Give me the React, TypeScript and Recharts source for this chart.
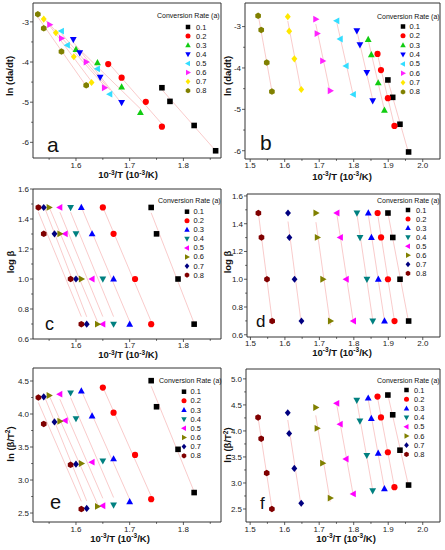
import React from "react";
import { ScatterChart, Scatter, XAxis, YAxis, ReferenceArea } from "recharts";

const FONT = "'Liberation Sans', Arial, Helvetica, sans-serif";
const AXIS = "#333";
const FIT = "#f8bebe";

// conversion rates, one series each
const alphas = ["0.1", "0.2", "0.3", "0.4", "0.5", "0.6", "0.7", "0.8"];
// log of heating rates 30, 20, 10, 5 K/min
const logBeta = [1.477, 1.301, 1.0, 0.699];

// panel a (1000/T, ln(da/dt)), points ordered 30, 20, 10, 5 K/min
const xFriedman1 = [
  [1.76, 1.775, 1.82, 1.86],
  [1.66, 1.685, 1.73, 1.76],
  [1.6, 1.64, 1.685, 1.72],
  [1.595, 1.607, 1.645, 1.685],
  [1.573, 1.584, 1.64, 1.663],
  [1.551, 1.573, 1.619, 1.653],
  [1.54, 1.5625, 1.596, 1.629],
  [1.529, 1.54, 1.573, 1.619],
];
const yFriedman1 = [
  [-4.64, -4.98, -5.58, -6.21],
  [-4.05, -4.39, -4.99, -5.61],
  [-3.69, -4.02, -4.62, -5.26],
  [-3.44, -3.77, -4.38, -5.01],
  [-3.23, -3.58, -4.17, -4.8],
  [-3.07, -3.41, -4.0, -4.64],
  [-2.93, -3.27, -3.87, -4.51],
  [-2.81, -3.16, -3.74, -4.58],
];

// panels c and e share these 1000/T values
const xSample1 = [
  [1.74, 1.75, 1.79, 1.82],
  [1.65, 1.67, 1.71, 1.74],
  [1.61, 1.63, 1.67, 1.7],
  [1.59, 1.6, 1.65, 1.67],
  [1.57, 1.58, 1.63, 1.65],
  [1.55, 1.57, 1.61, 1.64],
  [1.54, 1.56, 1.6, 1.62],
  [1.53, 1.54, 1.59, 1.61],
];
const yKas1 = [
  [4.505, 4.11, 3.465, 2.81],
  [4.4, 4.02, 3.38, 2.71],
  [4.35, 3.97, 3.32, 2.67],
  [4.32, 3.93, 3.29, 2.62],
  [4.3, 3.9, 3.27, 2.61],
  [4.28, 3.89, 3.25, 2.6],
  [4.26, 3.88, 3.24, 2.57],
  [4.25, 3.85, 3.23, 2.56],
];

// panels b, d and f share these 1000/T values
const xSample2 = [
  [1.899, 1.913, 1.934, 1.959],
  [1.869, 1.879, 1.899, 1.918],
  [1.842, 1.851, 1.871, 1.889],
  [1.809, 1.818, 1.838, 1.855],
  [1.751, 1.761, 1.778, 1.799],
  [1.69, 1.694, 1.71, 1.732],
  [1.609, 1.613, 1.628, 1.648],
  [1.523, 1.532, 1.548, 1.563],
];
const yFriedman2 = [
  [-4.29, -4.71, -5.36, -6.03],
  [-3.66, -4.05, -4.73, -5.4],
  [-3.31, -3.68, -4.36, -5.02],
  [-3.1, -3.44, -4.11, -4.79],
  [-2.86, -3.3, -3.95, -4.64],
  [-2.82, -3.17, -3.83, -4.55],
  [-2.76, -3.11, -3.78, -4.52],
  [-2.74, -3.08, -3.87, -4.57],
];
const yKas2 = [
  [4.69, 4.31, 3.63, 2.96],
  [4.66, 4.26, 3.59, 2.92],
  [4.63, 4.24, 3.57, 2.89],
  [4.59, 4.19, 3.53, 2.85],
  [4.53, 4.13, 3.46, 2.79],
  [4.45, 4.05, 3.38, 2.71],
  [4.35, 3.95, 3.28, 2.61],
  [4.26, 3.85, 3.19, 2.5],
];
const yFwo = alphas.map(() => logBeta);

// tick labels
const ticksX1 = [1.6, 1.7, 1.8];
const minorX1 = [1.55, 1.65, 1.75, 1.85];
const ticksX2 = [1.5, 1.6, 1.7, 1.8, 1.9, 2.0];
const minorX2 = [1.55, 1.65, 1.75, 1.85, 1.95];
const ticksLn = [-6, -5, -4, -3];
const minorLn = [-5.5, -4.5, -3.5];
const ticksLog = [0.6, 0.8, 1.0, 1.2, 1.4, 1.6];
const minorLog = [0.7, 0.9, 1.1, 1.3, 1.5];
const ticksKas1 = [2.5, 3.0, 3.5, 4.0, 4.5];
const minorKas1 = [2.75, 3.25, 3.75, 4.25];
const ticksKas2 = [2.5, 3.0, 3.5, 4.0, 4.5, 5.0];
const minorKas2 = [2.75, 3.25, 3.75, 4.25, 4.75];

const colorsAB = ["#000000", "#ff0000", "#11cc11", "#0000ff", "#33ddff", "#ff22ff", "#ffe800", "#808000"];
const colorsCF = ["#000000", "#ff0000", "#0000ff", "#008080", "#ff00ff", "#808000", "#000080", "#800000"];
const shapes = ["square", "circle", "up", "down", "left", "right", "diamond", "hexagon"];

const SHAPE_PTS: Record<string, number[][]> = {
  up: [[0, -1.2], [1.1, 0.8], [-1.1, 0.8]],
  down: [[0, 1.2], [1.1, -0.8], [-1.1, -0.8]],
  left: [[-1.2, 0], [0.8, -1.1], [0.8, 1.1]],
  right: [[1.2, 0], [-0.8, -1.1], [-0.8, 1.1]],
  diamond: [[0, -1.15], [0.95, 0], [0, 1.15], [-0.95, 0]],
  hexagon: [[0, -1.05], [0.91, -0.52], [0.91, 0.52], [0, 1.05], [-0.91, 0.52], [-0.91, -0.52]],
};

function Marker({ cx, cy, kind, color, r = 3 }: any) {
  if (cx == null || cy == null) return <g />;
  if (kind === "square") {
    const s = r * 0.9;
    return <rect x={cx - s} y={cy - s} width={s * 2} height={s * 2} fill={color} />;
  }
  if (kind === "circle") return <circle cx={cx} cy={cy} r={r} fill={color} />;
  const pts = SHAPE_PTS[kind].map(([a, b]) => `${cx + a * r},${cy + b * r}`).join(" ");
  return <polygon points={pts} fill={color} />;
}

const fmt1 = (v: number) => v.toFixed(1);
const fmt0 = (v: number) => String(Math.round(v));

function XTick({ x, y, payload, major, fmt, gap }: any) {
  const isMajor = major.some((m: number) => Math.abs(m - payload.value) < 1e-6);
  return (
    <g>
      <line x1={x} x2={x} y1={y} y2={y + (isMajor ? 3 : 1.8)} stroke={AXIS} strokeWidth={0.8} />
      {isMajor && (
        <text x={x} y={y + gap} textAnchor="middle" fontSize={8} fontFamily={FONT} fill="#222">
          {fmt(payload.value)}
        </text>
      )}
    </g>
  );
}

function YTick({ x, y, payload, major, fmt }: any) {
  const isMajor = major.some((m: number) => Math.abs(m - payload.value) < 1e-6);
  return (
    <g>
      <line x1={x} x2={x - (isMajor ? 3 : 1.8)} y1={y} y2={y} stroke={AXIS} strokeWidth={0.8} />
      {isMajor && (
        <text x={x - 4} y={y + 2.9} textAnchor="end" fontSize={8} fontFamily={FONT} fill="#222">
          {fmt(payload.value)}
        </text>
      )}
    </g>
  );
}

const toPts = (xs: number[], ys: number[]) => xs.map((x, i) => ({ x, y: ys[i] }));

function Panel({ box, xDomain, yDomain, xMajor, xMinor, yMajor, yMinor, xs, ys, colors, yFmt, tickGap }: any) {
  const margin = { top: box.y0 - box.top, right: box.left + box.width - box.x1, left: 0, bottom: 0 };
  const xTicks = [...xMajor, ...xMinor].sort((a, b) => a - b);
  const yTicks = [...yMajor, ...yMinor].sort((a, b) => a - b);
  return (
    <div style={{ position: "absolute", left: box.left, top: box.top }}>
      <ScatterChart width={box.width} height={box.height} margin={margin}>
        <XAxis
          type="number"
          dataKey="x"
          domain={xDomain}
          allowDataOverflow
          ticks={xTicks}
          interval={0}
          tickLine={false}
          tickSize={0}
          tickMargin={0}
          axisLine={false}
          height={box.top + box.height - box.y1}
          tick={(p: any) => <XTick {...p} major={xMajor} fmt={fmt1} gap={tickGap} />}
        />
        <YAxis
          type="number"
          dataKey="y"
          domain={yDomain}
          allowDataOverflow
          ticks={yTicks}
          interval={0}
          tickLine={false}
          tickSize={0}
          tickMargin={0}
          axisLine={false}
          width={box.x0 - box.left}
          tick={(p: any) => <YTick {...p} major={yMajor} fmt={yFmt} />}
        />
        <ReferenceArea
          x1={xDomain[0]}
          x2={xDomain[1]}
          y1={yDomain[0]}
          y2={yDomain[1]}
          fill="none"
          stroke={AXIS}
          strokeWidth={1}
        />
        {xs.map((row: number[], i: number) => (
          <Scatter
            key={"fit" + i}
            data={toPts(row, ys[i])}
            fill={FIT}
            stroke={FIT}
            line={{ stroke: FIT, strokeWidth: 0.8 }}
            lineType="fitting"
            shape={() => <g />}
            isAnimationActive={false}
          />
        ))}
        {xs.map((row: number[], i: number) => (
          <Scatter
            key={"pt" + i}
            data={toPts(row, ys[i])}
            fill={colors[i]}
            shape={(p: any) => <Marker cx={p.cx} cy={p.cy} kind={shapes[i]} color={colors[i]} r={3.1} />}
            isAnimationActive={false}
          />
        ))}
      </ScatterChart>
    </div>
  );
}

function XTitle({ cx, y }: any) {
  return (
    <text x={cx} y={y} textAnchor="middle" fontFamily={FONT} fontWeight="bold" fontSize={9.5} fill="#111">
      10<tspan dy={-3.5} fontSize={6.5}>-3</tspan>
      <tspan dy={3.5}>/T (10</tspan>
      <tspan dy={-3.5} fontSize={6.5}>-3</tspan>
      <tspan dy={3.5}>/K)</tspan>
    </text>
  );
}

function YTitle({ x, y, kind }: any) {
  const common = {
    transform: `translate(${x},${y}) rotate(-90)`,
    textAnchor: "middle" as const,
    fontFamily: FONT,
    fontWeight: "bold",
    fontSize: 9.5,
    fill: "#111",
  };
  if (kind === "ln") return <text {...common}>ln (da/dt)</text>;
  if (kind === "log") return <text {...common}>log β</text>;
  return (
    <text {...common}>
      ln (β/T<tspan dy={-3.5} fontSize={6.5}>2</tspan>
      <tspan dy={3.5}>)</tspan>
    </text>
  );
}

function LegendBox({ lg, colors }: any) {
  return (
    <g>
      <text x={lg.titleX} y={lg.titleY} fontFamily={FONT} fontSize={7} fill="#111">
        Conversion Rate (a)
      </text>
      {alphas.map((a, i) => {
        const cy = lg.rowY0 + i * lg.step;
        return (
          <g key={a}>
            <Marker cx={lg.markerX} cy={cy} kind={shapes[i]} color={colors[i]} r={2.5} />
            <text x={lg.labelX} y={cy + 2.5} fontFamily={FONT} fontSize={7.5} fill="#111">
              {a}
            </text>
          </g>
        );
      })}
    </g>
  );
}

const panels = [
  {
    box: { left: 0, top: 0, width: 225, height: 183, x0: 33, y0: 3, x1: 221, y1: 158 },
    xDomain: [1.52, 1.87], yDomain: [-6.39, -2.53], tickGap: 9.5,
    xMajor: ticksX1, xMinor: minorX1, yMajor: ticksLn, yMinor: minorLn, yFmt: fmt0,
    xs: xFriedman1, ys: yFriedman1, colors: colorsAB,
    yTitle: { x: 13, y: 76, kind: "ln" }, xTitle: { cx: 128, y: 178 },
    letter: { x: 47, y: 151.5, size: 21, t: "a" },
    legend: { titleX: 157, titleY: 17.5, markerX: 188, labelX: 196, rowY0: 27, step: 9.1 },
  },
  {
    box: { left: 222, top: 0, width: 223, height: 183, x0: 245, y0: 3, x1: 440, y1: 159 },
    xDomain: [1.485, 2.05], yDomain: [-6.2, -2.43], tickGap: 8.5,
    xMajor: ticksX2, xMinor: minorX2, yMajor: ticksLn, yMinor: minorLn, yFmt: fmt0,
    xs: xSample2, ys: yFriedman2, colors: colorsAB,
    yTitle: { x: 231, y: 76, kind: "ln" }, xTitle: { cx: 342, y: 179.5 },
    letter: { x: 260, y: 150, size: 21, t: "b" },
    legend: { titleX: 377, titleY: 18.5, markerX: 403, labelX: 409.5, rowY0: 26.5, step: 9.35 },
  },
  {
    box: { left: 0, top: 183, width: 225, height: 182, x0: 33, y0: 189, x1: 221, y1: 339 },
    xDomain: [1.52, 1.87], yDomain: [0.6, 1.6], tickGap: 9,
    xMajor: ticksX1, xMinor: minorX1, yMajor: ticksLog, yMinor: minorLog, yFmt: fmt1,
    xs: xSample1, ys: yFwo, colors: colorsCF,
    yTitle: { x: 13.5, y: 262, kind: "log" }, xTitle: { cx: 128, y: 358 },
    letter: { x: 45, y: 330, size: 18, t: "c" },
    legend: { titleX: 158, titleY: 202.5, markerX: 187, labelX: 193.5, rowY0: 211.7, step: 9.05 },
  },
  {
    box: { left: 222, top: 183, width: 223, height: 182, x0: 247, y0: 194, x1: 440, y1: 337 },
    xDomain: [1.49, 2.05], yDomain: [0.584, 1.614], tickGap: 8.5,
    xMajor: ticksX2, xMinor: minorX2, yMajor: ticksLog, yMinor: minorLog, yFmt: fmt1,
    xs: xSample2, ys: yFwo, colors: colorsCF,
    yTitle: { x: 231, y: 262, kind: "log" }, xTitle: { cx: 342, y: 355.5 },
    letter: { x: 256, y: 327, size: 17, t: "d" },
    legend: { titleX: 377, titleY: 202.5, markerX: 408, labelX: 416, rowY0: 210, step: 9.05 },
  },
  {
    box: { left: 0, top: 365, width: 225, height: 185, x0: 33, y0: 368, x1: 221, y1: 522 },
    xDomain: [1.52, 1.87], yDomain: [2.364, 4.697], tickGap: 9.5,
    xMajor: ticksX1, xMinor: minorX1, yMajor: ticksKas1, yMinor: minorKas1, yFmt: fmt1,
    xs: xSample1, ys: yKas1, colors: colorsCF,
    yTitle: { x: 13.5, y: 444, kind: "kas" }, xTitle: { cx: 120, y: 541.5 },
    letter: { x: 50, y: 509, size: 20, t: "e" },
    legend: { titleX: 159, titleY: 383, markerX: 184, labelX: 190.5, rowY0: 391.7, step: 9.15 },
  },
  {
    box: { left: 222, top: 365, width: 223, height: 185, x0: 246, y0: 369, x1: 440, y1: 522 },
    xDomain: [1.488, 2.05], yDomain: [2.25, 5.19], tickGap: 9.5,
    xMajor: ticksX2, xMinor: minorX2, yMajor: ticksKas2, yMinor: minorKas2, yFmt: fmt1,
    xs: xSample2, ys: yKas2, colors: colorsCF,
    yTitle: { x: 231, y: 445, kind: "kas" }, xTitle: { cx: 346, y: 541.5 },
    letter: { x: 260, y: 509, size: 17, t: "f" },
    legend: { titleX: 377, titleY: 382.5, markerX: 406.5, labelX: 414, rowY0: 390, step: 9.2 },
  },
];

export default function App() {
  return (
    <div
      style={{
        position: "absolute",
        left: 0,
        top: 0,
        width: 445,
        height: 550,
        background: "#fff",
        overflow: "hidden",
        fontFamily: FONT,
      }}
    >
      {panels.map((p, i) => (
        <Panel key={i} {...p} />
      ))}
      <svg
        width={445}
        height={550}
        style={{ position: "absolute", left: 0, top: 0, pointerEvents: "none" }}
      >
        {panels.map((p, i) => (
          <g key={i}>
            <YTitle {...p.yTitle} />
            <XTitle {...p.xTitle} />
            <text x={p.letter.x} y={p.letter.y} fontFamily={FONT} fontSize={p.letter.size} fill="#111">
              {p.letter.t}
            </text>
            <LegendBox lg={p.legend} colors={p.colors} />
          </g>
        ))}
      </svg>
    </div>
  );
}
